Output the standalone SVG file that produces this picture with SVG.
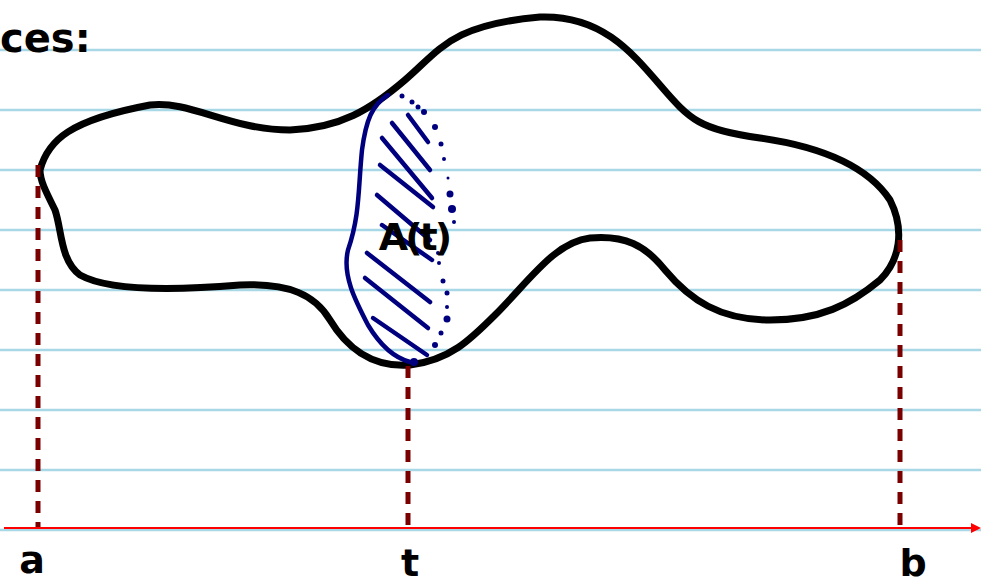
<svg xmlns="http://www.w3.org/2000/svg" width="981" height="587" viewBox="0 0 981 587">
<defs>
<style>
.rule{stroke:#a8d8e6;stroke-width:2.5}
.blob{fill:none;stroke:#000;stroke-width:7;stroke-linejoin:round;stroke-linecap:round}
.dash{stroke:#7a0000;stroke-width:5;stroke-dasharray:12,9}
.hatch{stroke:#00007f;stroke-width:4.5;stroke-linecap:round;fill:none}
.dot{fill:#00007f}
.lbl{font-family:"DejaVu Sans",sans-serif;font-weight:bold;fill:#000}
</style>
<marker id="arr" markerWidth="10" markerHeight="10" refX="8" refY="5" orient="auto" markerUnits="userSpaceOnUse">
<path d="M0,0 L10,5 L0,10 Z" fill="#ff0000"/>
</marker>
</defs>
<rect width="981" height="587" fill="#fff"/>
<g id="rules">
<line class="rule" x1="0" y1="50" x2="981" y2="50"/>
<line class="rule" x1="0" y1="110" x2="981" y2="110"/>
<line class="rule" x1="0" y1="170" x2="981" y2="170"/>
<line class="rule" x1="0" y1="230" x2="981" y2="230"/>
<line class="rule" x1="0" y1="290" x2="981" y2="290"/>
<line class="rule" x1="0" y1="350" x2="981" y2="350"/>
<line class="rule" x1="0" y1="410" x2="981" y2="410"/>
<line class="rule" x1="0" y1="470" x2="981" y2="470"/>
<line class="rule" x1="0" y1="530" x2="981" y2="530"/>
</g>
<text class="lbl" x="0" y="52" font-size="40">ces:</text>
<g id="blob">
<path class="blob" d="M40,170 C48,140 70,120 150,105 C190,100 230,130 290,130 C340,128 370,110 405,80 C440,50 450,25 540,17 C600,15 630,50 660,85 C690,120 700,130 760,138 C830,148 870,170 890,200 C905,230 900,260 880,280 C850,305 820,320 770,320 C720,320 690,300 665,270 C645,245 625,235 590,238 C555,242 530,280 495,315 C470,340 450,360 410,365 C370,368 345,345 330,320 C315,295 290,283 240,285 C180,290 110,292 80,275 C60,260 62,230 55,210 C45,190 40,180 40,170 Z"/>
</g>
<g id="slice">
<path class="hatch" stroke-width="5.5" d="M388,95 C372,105 366,120 362,150 C358,190 360,215 348,250 C342,275 355,300 368,325 C380,345 395,358 410,362"/>
<line class="hatch" x1="408" y1="115" x2="428" y2="142"/>
<line class="hatch" x1="392" y1="123" x2="430" y2="170"/>
<line class="hatch" x1="382" y1="138" x2="432" y2="198"/>
<line class="hatch" x1="380" y1="165" x2="433" y2="207"/>
<line class="hatch" x1="377" y1="195" x2="430" y2="240"/>
<line class="hatch" x1="382" y1="225" x2="432" y2="260"/>
<line class="hatch" x1="367" y1="253" x2="430" y2="302"/>
<line class="hatch" x1="365" y1="278" x2="428" y2="328"/>
<line class="hatch" x1="373" y1="318" x2="427" y2="355"/>
<circle class="dot" cx="402" cy="96" r="2.5"/>
<circle class="dot" cx="412" cy="102" r="2.5"/>
<circle class="dot" cx="418" cy="107" r="2.5"/>
<circle class="dot" cx="424" cy="112" r="3"/>
<circle class="dot" cx="435" cy="127" r="3"/>
<circle class="dot" cx="441" cy="144" r="2.5"/>
<circle class="dot" cx="444" cy="159" r="2"/>
<circle class="dot" cx="448" cy="178" r="1.5"/>
<circle class="dot" cx="450" cy="194" r="3.5"/>
<circle class="dot" cx="452" cy="209" r="4"/>
<circle class="dot" cx="454" cy="222" r="2"/>
<circle class="dot" cx="438" cy="253" r="2"/>
<circle class="dot" cx="439" cy="263" r="2"/>
<circle class="dot" cx="443" cy="281" r="2.5"/>
<circle class="dot" cx="447" cy="293" r="2.5"/>
<circle class="dot" cx="447" cy="307" r="2"/>
<circle class="dot" cx="447" cy="319" r="3.5"/>
<circle class="dot" cx="441" cy="333" r="2.5"/>
<circle class="dot" cx="435" cy="345" r="3"/>
<circle class="dot" cx="414" cy="362" r="4"/>
<text class="lbl" x="414" y="250" font-size="38" text-anchor="middle" letter-spacing="-3">A(t)</text>
</g>
<g id="connectors">
<line class="dash" x1="38" y1="165" x2="38" y2="528"/>
<line class="dash" x1="408" y1="366" x2="408" y2="526"/>
<line class="dash" x1="900" y1="240" x2="900" y2="526"/>
<line x1="4" y1="528" x2="979" y2="528" stroke="#ff0000" stroke-width="2" marker-end="url(#arr)"/>
</g>
<text class="lbl" x="32" y="573" font-size="38" text-anchor="middle">a</text>
<text class="lbl" x="410" y="576" font-size="38" text-anchor="middle">t</text>
<text class="lbl" x="913" y="576" font-size="38" text-anchor="middle">b</text>
</svg>
